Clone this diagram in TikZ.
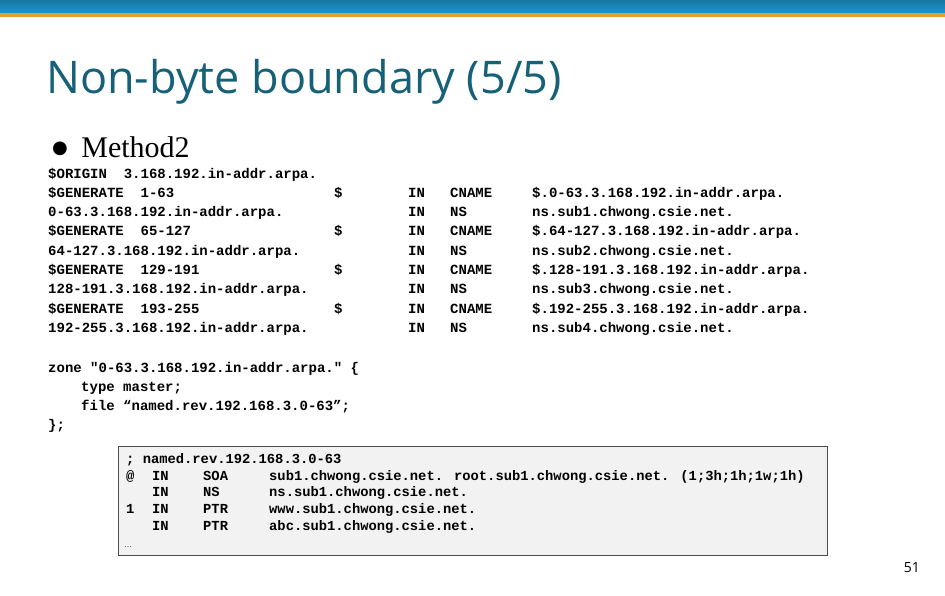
\documentclass[tikz,border=0pt]{standalone}
\usepackage{fontspec}
\setmainfont{Liberation Serif}
\newfontfamily\codef{Liberation Mono}
\newfontfamily\titlef{Open Sans}
\newfontfamily\symf{DejaVu Sans}
\definecolor{titlec}{RGB}{22,96,120}
\definecolor{barblue}{RGB}{30,150,205}
\definecolor{barorange}{RGB}{225,160,50}
\begin{document}
\begin{tikzpicture}[x=1pt,y=-1pt,
 code/.style={anchor=base west,inner sep=0pt,font=\codef\bfseries\fontsize{14}{15}\selectfont},
 code2/.style={anchor=base west,inner sep=0pt,font=\codef\bfseries\fontsize{13.8}{15}\selectfont}]
\useasboundingbox (0,0) rectangle (945,595);
\fill[top color=barblue!80!black,bottom color=barblue] (0,0) rectangle (945,13);
\fill[barorange] (0,13) rectangle (945,16.5);
\node[anchor=base west,inner sep=0pt,text=titlec,font=\titlef\fontsize{45}{50}\selectfont] (title) at (46,93) {Non-byte boundary (5/5)};
\node[anchor=base west,inner sep=0pt,font=\fontsize{30}{32}\selectfont] (m2) at (52,157) {\raisebox{4pt}{\symf\fontsize{18}{20}\selectfont ●}\hspace{0.45em}Method2};
\foreach \t [count=\i from 0] in {{\$ORIGIN\ \ 3.168.192.in-addr.arpa.},{\$GENERATE\ \ 1-63},{0-63.3.168.192.in-addr.arpa.},{\$GENERATE\ \ 65-127},{64-127.3.168.192.in-addr.arpa.},{\$GENERATE\ \ 129-191},{128-191.3.168.192.in-addr.arpa.},{\$GENERATE\ \ 193-255},{192-255.3.168.192.in-addr.arpa.}}
  \node[code] (a\i) at (48,178+19.3*\i) {\t};
\foreach \i in {1,3,5,7} \node[code] (d\i) at (334,178+19.3*\i) {\$};
\foreach \r/\v [count=\i] in {CNAME/{\$.0-63.3.168.192.in-addr.arpa.},NS/{ns.sub1.chwong.csie.net.},CNAME/{\$.64-127.3.168.192.in-addr.arpa.},NS/{ns.sub2.chwong.csie.net.},CNAME/{\$.128-191.3.168.192.in-addr.arpa.},NS/{ns.sub3.chwong.csie.net.},CNAME/{\$.192-255.3.168.192.in-addr.arpa.},NS/{ns.sub4.chwong.csie.net.}}{
  \node[code] (in\i) at (408,178+19.3*\i) {IN};
  \node[code] (r\i) at (450,178+19.3*\i) {\r};
  \node[code] (v\i) at (532,178+19.3*\i) {\v};}
\node[code] (z1) at (48,372) {zone "0-63.3.168.192.in-addr.arpa." \{};
\node[code] (z2) at (81,391) {type master;};
\node[code] (z3) at (81,410) {file “named.rev.192.168.3.0-63”;};
\node[code] (z4) at (48,429) {\};};
\draw[fill=black!5,draw=black!70] (118,446) rectangle (827,555);
\node[code2] (b1) at (126,463) {; named.rev.192.168.3.0-63};
\node[code2] (b2) at (126,480) {@};
\node[code2] (b4) at (126,513) {1};
\foreach \r/\v [count=\i from 0] in {SOA/{sub1.chwong.csie.net. root.sub1.chwong.csie.net. (1;3h;1h;1w;1h)},NS/{ns.sub1.chwong.csie.net.},PTR/{www.sub1.chwong.csie.net.},PTR/{abc.sub1.chwong.csie.net.}}{
  \node[code2] (bi\i) at (152,480+16.7*\i) {IN};
  \node[code2] (br\i) at (203,480+16.7*\i) {\r};
  \node[code2] (bv\i) at (269,480+16.7*\i) {\v};}
\node[anchor=base west,inner sep=0pt,font=\fontsize{8}{9}\selectfont] (dots) at (124,547) {…};
\node[anchor=base east,inner sep=0pt,font=\titlef\fontsize{14}{16}\selectfont] (pg) at (920,572) {51};
\end{tikzpicture}
\end{document}
